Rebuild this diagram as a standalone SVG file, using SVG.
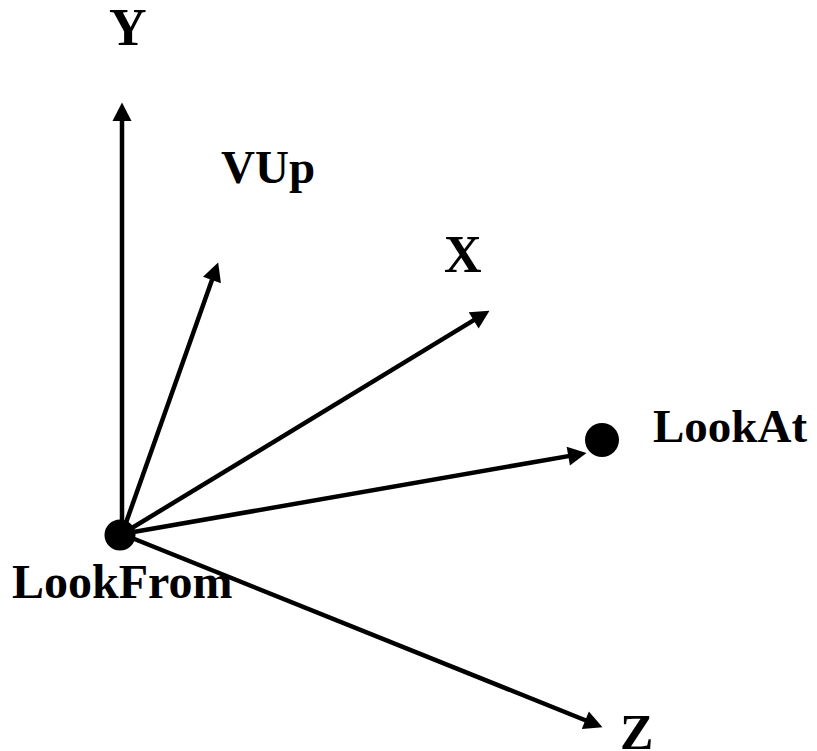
<svg xmlns="http://www.w3.org/2000/svg" width="817" height="751" viewBox="0 0 817 751">
<style>
.ax{stroke:#000;stroke-width:4.5;fill:none;marker-end:url(#ah)}
.lb{font-family:"Liberation Serif","Times New Roman",serif;font-weight:bold;fill:#000}
</style>
<defs>
<marker id="ah" markerUnits="userSpaceOnUse" viewBox="0 -10 19 20" refX="6" refY="0" markerWidth="19" markerHeight="20" orient="auto" overflow="visible">
<path d="M0,-9.5 L18.5,0 L0,9.5 z" fill="#000"/>
</marker>
</defs>
<rect width="817" height="751" fill="#fff"/>
<g id="connectors">
<line class="ax" x1="122" y1="534" x2="122" y2="115"/>
<line class="ax" x1="122" y1="534" x2="214" y2="274.3"/>
<line class="ax" x1="122" y1="534" x2="478.8" y2="317.2"/>
<line class="ax" x1="122" y1="534" x2="574.2" y2="455.1"/>
<line class="ax" x1="122" y1="534" x2="590.9" y2="722.5"/>
</g>
<g id="lookfrom">
<circle cx="120" cy="535" r="15.5" fill="#000"/>
<text class="lb" x="12" y="598" font-size="48">LookFrom</text>
</g>
<g id="lookat">
<circle cx="602" cy="440" r="17" fill="#000"/>
<text class="lb" x="653" y="442" font-size="47">LookAt</text>
</g>
<g id="y"><text class="lb" x="109" y="45" font-size="52">Y</text></g>
<g id="vup"><text class="lb" x="221" y="183" font-size="47">VUp</text></g>
<g id="x"><text class="lb" x="444" y="272" font-size="52">X</text></g>
<g id="z"><text class="lb" x="620" y="749" font-size="50">Z</text></g>
</svg>
